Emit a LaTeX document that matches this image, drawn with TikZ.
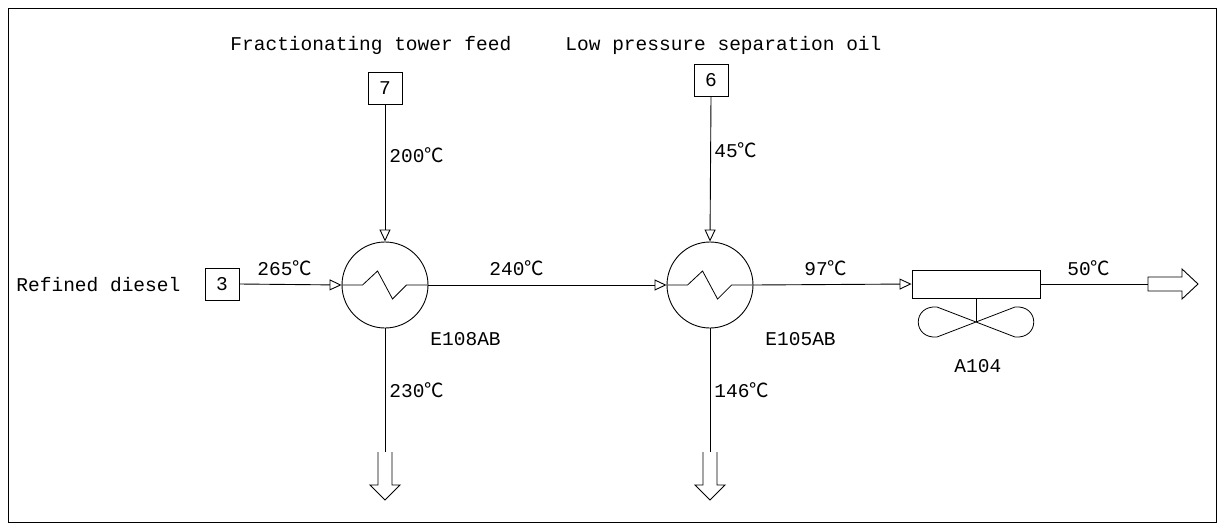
\documentclass[tikz,border=0pt]{standalone}
\usepackage{fontspec}
\setmainfont{Liberation Mono}
\newfontfamily\cjk{Noto Sans CJK SC}
\usetikzlibrary{arrows.meta}
\newcommand{\dg}{{\cjk ℃}}
\begin{document}
\begin{tikzpicture}[x=1pt,y=-1pt,line width=0.9pt,
  lbl/.style={font=\fontsize{19.5}{19.5}\selectfont,inner sep=0pt},
  box/.style={draw,minimum width=34pt,minimum height=32pt,inner sep=0pt,font=\fontsize{19.5}{19.5}\selectfont},
  hx/.style={draw,circle,minimum size=86pt,inner sep=0pt},
  flow/.style={-{Triangle[open,length=12pt,width=11pt]}},
  hollow/.style={draw,line width=0.9pt,fill=white}]
\useasboundingbox (0,0) rectangle (1225,530);
\draw[line width=0.8pt] (8,8) rectangle (1216,522);
% nodes
\node[box] (b3) at (222,284) {3};
\node[box] (b7) at (385,88) {7};
\node[box] (b6) at (711,80) {6};
\node[hx] (e108) at (385,285) {};
\node[hx] (e105) at (710,285) {};
\node[draw,minimum width=128pt,minimum height=28pt,inner sep=0pt] (a104) at (976,284) {};
\coordinate (d1) at (385,452);
\coordinate (d2) at (710,452);
\coordinate (r1) at (1148,284);
\coordinate (fan) at (976,322);
% connectors
\draw[flow] (b3.east) -- (e108.west);
\draw[flow] (b7.south) -- (e108.north);
\draw[flow] (e108.east) -- (e105.west);
\draw[flow] (b6.south) -- (e105.north);
\draw[flow] (e105.east) -- (a104.west);
\draw (e108.south) -- (d1);
\draw (e105.south) -- (d2);
\draw (a104.east) -- (r1);
\draw (a104.south) -- (fan);
% zigzags
\foreach \c in {e108,e105}{
 \draw[line width=0.8pt] (\c.west) -- ++(21,0) -- ++(15,-14) -- ++(15,28) -- ++(14,-14) -- (\c.east);
}
% fan
\draw[line width=0.8pt] (fan) -- (937,307) .. controls (912,305) and (912,339) .. (937,337) -- (fan)
  -- (1015,307) .. controls (1040,305) and (1040,339) .. (1015,337) -- cycle;
% hollow arrows
\foreach \x in {385,710}{
 \draw[hollow] (\x-7,452) -- (\x-7,485) -- (\x-15,485) -- (\x,500) -- (\x+15,485) -- (\x+7,485) -- (\x+7,452);
}
\draw[hollow] (1148,277) -- (1182,277) -- (1182,269) -- (1198,284) -- (1182,299) -- (1182,291) -- (1148,291) -- cycle;
% labels
\node[lbl,anchor=west] (t1) at (230,45) {Fractionating tower feed};
\node[lbl,anchor=west] (t2) at (565,45) {Low pressure separation oil};
\node[lbl,anchor=west] (t3) at (16,285) {Refined diesel};
\node[lbl,anchor=west] (t4) at (257,268) {265\dg};
\node[lbl,anchor=west] (t5) at (389,155) {200\dg};
\node[lbl,anchor=west] (t6) at (389,390) {230\dg};
\node[lbl,anchor=west] (t7) at (430,339) {E108AB};
\node[lbl,anchor=west] (t8) at (489,268) {240\dg};
\node[lbl,anchor=west] (t9) at (714,150) {45\dg};
\node[lbl,anchor=west] (t10) at (714,390) {146\dg};
\node[lbl,anchor=west] (t11) at (765,339) {E105AB};
\node[lbl,anchor=west] (t12) at (804,268) {97\dg};
\node[lbl,anchor=west] (t13) at (954,366) {A104};
\node[lbl,anchor=west] (t14) at (1067,268) {50\dg};
\end{tikzpicture}
\end{document}
